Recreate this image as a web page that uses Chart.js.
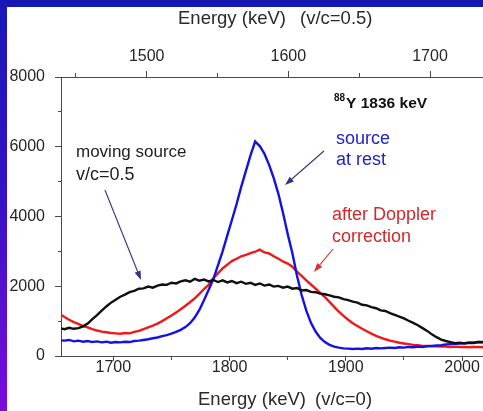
<!DOCTYPE html>
<html>
<head>
<meta charset="utf-8">
<title>88Y 1836 keV line shape</title>
<script src="https://cdn.jsdelivr.net/npm/chart.js@4/dist/chart.umd.min.js"></script>
<style>
  html, body { margin: 0; padding: 0; }
  body { width: 483px; height: 411px; overflow: hidden; position: relative; background: #1616b2; }
  #strip { position: absolute; left: 0; top: 0; width: 7px; height: 411px;
           background: linear-gradient(to bottom, #1818b6 0%, #3412c4 45%, #7a0cdc 100%); }
  #panel { position: absolute; left: 7px; top: 7px; width: 476px; height: 404px; background: #ffffff; }
  #chart { position: absolute; left: 0; top: 0; }
</style>
</head>
<body>
<div id="strip"></div>
<div id="panel"></div>
<canvas id="chart" width="483" height="411"></canvas>
<script>
// Channel energies (keV, source at rest frame)
const energy = [
  1654,1658,1662,1666,1670,1674,1678,1682,1686,1690,
  1694,1698,1702,1706,1710,1714,1718,1722,1726,1730,
  1734,1738,1742,1746,1750,1754,1758,1762,1766,1770,
  1774,1778,1782,1786,1790,1794,1798,1802,1806,1810,
  1814,1818,1822,1826,1830,1834,1838,1842,1846,1850,
  1854,1858,1862,1866,1870,1874,1878,1882,1886,1890,
  1894,1898,1902,1906,1910,1914,1918,1922,1926,1930,
  1934,1938,1942,1946,1950,1954,1958,1962,1966,1970,
  1974,1978,1982,1986,1990,1994,1998,2002,2006,2010,
  2014,2018
];

// Counts: moving source, v/c = 0.5 (no correction)
const movingSource = [
  800,770,810,780,800,850,930,1060,1170,1300,
  1420,1530,1610,1700,1760,1830,1870,1930,1940,1990,
  1960,2020,2050,2040,2100,2080,2140,2170,2130,2210,
  2160,2190,2140,2180,2120,2170,2110,2150,2090,2130,
  2070,2100,2040,2080,2020,2050,1990,2010,1960,1990,
  1930,1950,1880,1890,1840,1830,1790,1770,1740,1700,
  1680,1630,1600,1560,1530,1470,1450,1400,1370,1310,
  1290,1230,1180,1130,1080,1010,950,880,800,720,
  620,540,470,430,400,370,380,360,380,370,
  400,390
];

// Counts: source at rest
const sourceAtRest = [
  450,440,460,420,440,410,430,400,420,390,
  410,380,400,390,410,400,430,440,460,480,
  510,530,570,600,640,690,750,830,940,1100,
  1320,1600,1900,2200,2600,3000,3450,3900,4350,4850,
  5300,5750,6150,6020,5800,5480,5100,4650,4100,3500,
  2950,2300,1750,1300,950,700,520,400,320,270,
  240,220,210,200,210,200,220,210,230,220,
  230,240,230,250,240,260,250,270,260,280,
  290,300,310,330,340,350,360,370,380,390,
  400,400
];

// Counts: moving source after Doppler correction
const afterDoppler = [
  1200,1120,1040,970,920,860,820,770,730,700,
  680,660,650,640,660,650,690,720,770,820,
  870,930,1000,1080,1160,1250,1340,1440,1540,1650,
  1780,1920,2040,2230,2370,2510,2620,2720,2790,2860,
  2900,2950,2990,3050,2970,2940,2860,2790,2710,2650,
  2560,2420,2300,2170,2050,1930,1810,1690,1550,1410,
  1270,1150,1040,940,860,780,710,640,580,530,
  480,440,410,380,360,340,320,310,290,290,
  280,280,270,270,260,270,260,260,250,260,
  260,250
];

// Tick positions
const bottomTicks = [1700, 1750, 1800, 1850, 1900, 1950, 2000];
const topTicks = [1450, 1500, 1550, 1600, 1650, 1700];
const countTicks = [0, 1000, 2000, 3000, 4000, 5000, 6000, 7000, 8000];

const FONT = "'Liberation Sans', Arial, Helvetica, sans-serif";
const INK = '#262626';
const AXIS = '#4a4a4a';

const points = vals => energy.map((e, i) => ({ x: e, y: vals[i] }));

// Text labels and arrows drawn in data coordinates
const notes = {
  id: 'notes',
  afterDatasetsDraw(chart) {
    const { ctx } = chart;
    const xs = chart.scales.x, ys = chart.scales.y;
    const X = v => xs.getPixelForValue(v);
    const Y = v => ys.getPixelForValue(v);

    const text = (s, e, c, color, font) => {
      ctx.fillStyle = color;
      ctx.font = font;
      ctx.fillText(s, X(e), Y(c));
    };
    const arrow = (e1, c1, e2, c2, color) => {
      const x1 = X(e1), y1 = Y(c1), x2 = X(e2), y2 = Y(c2);
      const a = Math.atan2(y2 - y1, x2 - x1);
      const L = 9, W = 3.2;
      ctx.strokeStyle = color;
      ctx.fillStyle = color;
      ctx.lineWidth = 1.1;
      ctx.beginPath();
      ctx.moveTo(x1, y1);
      ctx.lineTo(x2 - Math.cos(a) * L * 0.8, y2 - Math.sin(a) * L * 0.8);
      ctx.stroke();
      ctx.beginPath();
      ctx.moveTo(x2, y2);
      ctx.lineTo(x2 - Math.cos(a) * L - Math.sin(a) * W, y2 - Math.sin(a) * L + Math.cos(a) * W);
      ctx.lineTo(x2 - Math.cos(a) * L + Math.sin(a) * W, y2 - Math.sin(a) * L - Math.cos(a) * W);
      ctx.closePath();
      ctx.fill();
    };

    ctx.save();
    ctx.textAlign = 'left';
    ctx.textBaseline = 'middle';

    const reg = '17px ' + FONT;
    text('moving source', 1667.9, 5849, '#1e1e1e', reg);
    text('v/c=0.5', 1667.9, 5190, '#1e1e1e', '18px ' + FONT);
    text('source', 1891.6, 6222, '#2222c6', '18px ' + FONT);
    text('at rest', 1891.6, 5620, '#2222c6', '18px ' + FONT);
    text('after Doppler', 1888.1, 4043, '#d42828', '18px ' + FONT);
    text('correction', 1888.1, 3412, '#d42828', '18px ' + FONT);

    // isotope label with superscript mass number
    ctx.fillStyle = '#111';
    ctx.font = 'bold 10px ' + FONT;
    const sx = X(1889.8);
    ctx.fillText('88', sx, Y(7226) - 6);
    const w = ctx.measureText('88').width;
    ctx.font = 'bold 15.5px ' + FONT;
    ctx.fillText('Y 1836 keV', sx + w + 1, Y(7226));

    arrow(1692.8, 4760, 1723.8, 2179, '#34347c');
    arrow(1881.2, 5878, 1847.7, 4903, '#34347c');
    arrow(1889.0, 3068, 1872.6, 2409, '#d23434');

    // axis titles
    ctx.fillStyle = '#2a2a2a';
    ctx.font = '18.5px ' + FONT;
    ctx.fillText('Energy (keV)', 178, 19);
    ctx.fillText('(v/c=0.5)', 300, 19);
    ctx.fillText('Energy (keV)', 198, 400);
    ctx.fillText('(v/c=0)', 315, 400);
    ctx.restore();
  }
};

const dash = (isMinor, pattern) => isMinor ? pattern : [];

new Chart(document.getElementById('chart'), {
  type: 'line',
  data: {
    datasets: [
      { label: 'moving source v/c=0.5', data: points(movingSource), borderColor: '#101010' },
      { label: 'source at rest', data: points(sourceAtRest), borderColor: '#1212e2' },
      { label: 'after Doppler correction', data: points(afterDoppler), borderColor: '#f01818' }
    ]
  },
  options: {
    responsive: false,
    animation: false,
    devicePixelRatio: 1,
    layout: { padding: 0 },
    plugins: { legend: { display: false }, tooltip: { enabled: false } },
    elements: {
      point: { radius: 0 },
      line: { borderWidth: 2.4, tension: 0, fill: false }
    },
    scales: {
      y: {
        position: 'left',
        min: 0, max: 8000,
        afterBuildTicks: s => { s.ticks = countTicks.map(v => ({ value: v })); },
        afterFit: s => { s.width = 61; },
        ticks: {
          font: { family: FONT, size: 16, lineHeight: 1.2 },
          color: INK, padding: 10,
          callback: v => (v % 2000 === 0 ? String(v) : '')
        },
        grid: {
          drawOnChartArea: false, tickLength: 6, color: AXIS,
          tickBorderDash: c => dash(c.tick && c.tick.value % 2000 !== 0, [0, 3, 3, 20])
        },
        border: { display: true, color: AXIS, width: 1 }
      },
      x: {
        type: 'linear',
        position: 'bottom',
        min: 1655, max: 2018,
        afterBuildTicks: s => { s.ticks = bottomTicks.map(v => ({ value: v })); },
        afterFit: s => { s.height = 55; },
        ticks: {
          font: { family: FONT, size: 16, lineHeight: 1.2 },
          color: INK, padding: -3, maxRotation: 0, autoSkip: false,
          callback: v => (v % 100 === 0 ? String(v) : '')
        },
        grid: {
          drawOnChartArea: false, tickLength: 5, color: AXIS,
          tickBorderDash: c => dash(c.tick && c.tick.value % 100 !== 0, [3, 20])
        },
        border: { display: true, color: AXIS, width: 1 }
      },
      xTop: {
        type: 'linear',
        position: 'top',
        min: 1439.5, max: 1737.4,
        afterBuildTicks: s => { s.ticks = topTicks.map(v => ({ value: v })); },
        afterFit: s => { s.height = 77; },
        ticks: {
          font: { family: FONT, size: 16, lineHeight: 1.2 },
          color: INK, padding: 5, maxRotation: 0, autoSkip: false,
          callback: v => (v % 100 === 0 ? String(v) : '')
        },
        grid: {
          drawOnChartArea: false, tickLength: 6, color: AXIS,
          tickBorderDash: c => dash(c.tick && c.tick.value % 100 !== 0, [0, 2, 4, 20])
        },
        border: { display: true, color: AXIS, width: 1 }
      }
    }
  },
  plugins: [notes]
});
</script>
</body>
</html>
